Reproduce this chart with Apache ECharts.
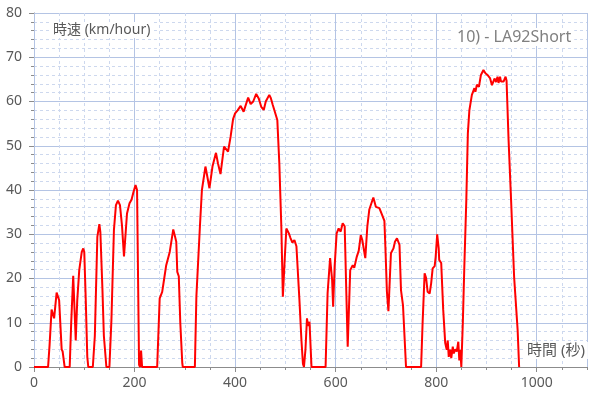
<!DOCTYPE html>
<html>
<head>
<meta charset="utf-8">
<script src="https://cdn.jsdelivr.net/npm/echarts@6/dist/echarts.min.js"></script>
<style>
  html, body { margin: 0; padding: 0; background: #fff; }
  #chart { width: 610px; height: 399px; }
</style>
</head>
<body>
<div id="chart"></div>
<script>
// LA92Short speed trace
var timeSec = [
  0, 28, 31, 35, 40, 45, 50, 55, 57, 61,
  71, 74, 78, 83, 86, 90, 95, 98, 100, 103, 106, 108,
  117, 121, 126, 130, 132, 136, 139, 144,
  150, 154, 159, 163, 167, 171, 175, 179, 185, 190, 194, 198, 202, 205, 207, 209, 211, 213, 215,
  245, 250, 255, 259, 263, 270, 277, 283, 285, 288, 291, 295, 296,
  320, 323, 330, 334, 341, 344, 349, 355, 362, 366, 371, 378, 381, 386, 391, 396, 400, 405,
  411, 417, 420, 426, 431, 436, 442, 447, 452, 457, 461, 468, 471, 475, 478, 484, 488, 492, 495,
  499, 502, 507, 510, 514, 518, 522, 528, 532, 535, 537, 540, 543, 545, 548, 550, 552,
  580, 584, 589, 593, 595, 598, 602, 606, 610, 614, 618, 621, 624, 629, 634, 637, 642, 646, 650,
  653, 659, 663, 667, 675, 680, 687, 692, 697, 699, 702, 705, 710, 715, 718, 722, 727, 730, 734, 736, 740,
  770, 773, 777, 780, 783, 787, 790, 793, 797, 799, 802, 805, 806, 810, 814, 818, 821, 823, 825,
  828, 830, 833, 835, 838, 841, 844, 846, 848, 850,
  853, 856, 860, 863, 866, 871, 876, 878, 881, 885, 889, 894, 898, 902, 907, 911, 916, 919, 922,
  924, 927, 929, 934, 938, 940, 944, 949, 955, 962, 965
];
var speedKmh = [
  0, 0, 5, 13, 11, 16.8, 15.1, 4, 3.5, 0,
  0, 10, 20.6, 6, 15, 21.9, 26, 26.8, 26, 15, 2.3, 0,
  0, 7, 29.4, 32.3, 30.5, 18, 7, 0,
  0, 10.6, 31, 36.6, 37.6, 36.6, 32, 25, 34.7, 37, 37.8, 39.6, 41.1, 40, 20, 0.5, 0, 3.7, 0,
  0, 15.5, 17, 20, 23, 26, 31.1, 28.3, 21.5, 20.5, 10, 0.8, 0,
  0, 15.9, 31.7, 40, 45.3, 43.5, 40.4, 45.3, 48.4, 46, 43.6, 49.8, 49.5, 48.7, 52, 56, 57.3, 58,
  59, 57.7, 57.5, 60.9, 59.4, 60, 61.7, 60.7, 58.8, 58.1, 60, 61.5, 60.8, 59.2, 59.5, 55.8, 46, 31.7, 15.9,
  25, 31.3, 30.2, 29.2, 28.1, 28.7, 27.3, 15.1, 6, 0.7, 0, 4, 11, 9.3, 10.2, 9.9, 0,
  0, 16.7, 24.6, 19.7, 13.6, 22.7, 30.2, 31.3, 30.6, 32.5, 31.8, 18, 4.6, 21.9, 23, 22.4, 24.9, 26.3, 29.8,
  28.7, 24.6, 31.7, 35.6, 38.3, 36.2, 35.9, 34.5, 33, 27, 17, 12.6, 25.7, 26.8, 28.3, 29.1, 27.6, 17.4, 13.9, 13.6, 0,
  0, 10, 21.2, 20.1, 17, 16.6, 18.9, 22.3, 22.8, 24.9, 30, 26.8, 24.2, 23.5, 12.9, 5.4, 3.9, 6, 2.3,
  3.9, 2, 4.6, 3.1, 4, 3.5, 5.7, 1.5, 3.9, 0,
  10, 22.7, 38, 52.8, 58, 61.5, 63, 62.2, 63.8, 63.3, 66, 67.1, 66.4, 66, 65.3, 63.7, 65.2, 64.4, 65.6,
  64.2, 65.6, 64.5, 64.5, 65.6, 64.7, 51.3, 37.7, 20.4, 8.4, 0
];

var yTicks = [0, 10, 20, 30, 40, 50, 60, 70, 80];
var xTicks = [0, 200, 400, 600, 800, 1000];

var pairs = [];
for (var i = 0; i < timeSec.length; i++) {
  pairs.push([timeSec[i], speedKmh[i]]);
}

var FONT = "'Noto Sans', 'Noto Sans CJK JP', sans-serif";
var AXIS_GRAY = '#8c8c8c';
var LABEL_GRAY = '#595959';
var MAJOR = '#b4c4e4';
var MINOR = '#cdd8ee';

var chart = echarts.init(document.getElementById('chart'));

var option = {
  animation: false,
  backgroundColor: '#fff',
  grid: { left: 34, right: 23, top: 13, bottom: 32, containLabel: false },
  xAxis: [{
    type: 'value',
    min: xTicks[0],
    max: 1100,
    interval: 200,
    axisLine: { show: true, lineStyle: { color: AXIS_GRAY, width: 1 } },
    axisTick: { show: true, length: 5, lineStyle: { color: AXIS_GRAY } },
    axisLabel: {
      margin: 9, color: LABEL_GRAY, fontSize: 14, fontFamily: FONT,
      showMaxLabel: false,
      formatter: function (v) { return xTicks.indexOf(v) >= 0 ? String(v) : ''; }
    },
    splitLine: { show: true, lineStyle: { color: MAJOR, width: 1, type: 'solid' } },
    z: 3
  }, {
    type: 'value',
    min: 0,
    max: 1100,
    interval: 50,
    position: 'bottom',
    axisLine: { show: false },
    axisTick: { show: true, length: 3, lineStyle: { color: AXIS_GRAY } },
    axisLabel: { show: false },
    splitLine: { show: true, lineStyle: { color: MINOR, width: 1, type: [3, 3] } },
    z: 1
  }],
  yAxis: {
    type: 'value',
    min: yTicks[0],
    max: yTicks[yTicks.length - 1],
    interval: 10,
    axisLine: { show: true, lineStyle: { color: AXIS_GRAY, width: 1 } },
    axisTick: { show: true, length: 5, lineStyle: { color: AXIS_GRAY } },
    minorTick: { show: true, splitNumber: 5, length: 3, lineStyle: { color: AXIS_GRAY } },
    axisLabel: { margin: 12, color: LABEL_GRAY, fontSize: 14, fontFamily: FONT },
    splitLine: { show: true, lineStyle: { color: MAJOR, width: 1 } },
    minorSplitLine: { show: true, lineStyle: { color: MINOR, width: 1, type: [3, 3] } }
  },
  graphic: [
    {
      type: 'text', left: 50, top: 22, z: 10,
      style: {
        text: '時速 (km/hour)', fill: LABEL_GRAY, font: '14px ' + FONT,
        backgroundColor: '#fff', padding: [1, 3]
      }
    },
    {
      type: 'text', left: 454, top: 28, z: 10,
      style: {
        text: '10) - LA92Short', fill: '#808080', font: '16px ' + FONT,
        backgroundColor: '#fff', padding: [1, 3]
      }
    },
    {
      type: 'text', left: 524, top: 342, z: 10,
      style: {
        text: '時間 (秒)', fill: LABEL_GRAY, font: '15px ' + FONT,
        backgroundColor: '#fff', padding: [1, 3]
      }
    }
  ],
  series: [{
    type: 'line',
    xAxisIndex: 0,
    data: pairs,
    showSymbol: false,
    symbol: 'none',
    lineStyle: { color: '#ff0000', width: 2 },
    z: 5
  }]
};

chart.setOption(option);
</script>
</body>
</html>
